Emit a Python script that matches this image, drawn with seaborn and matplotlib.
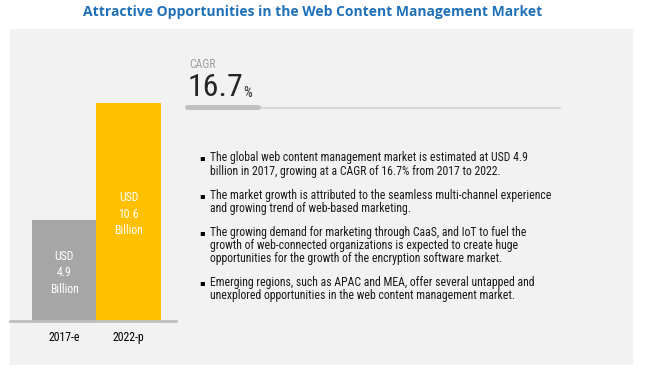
import matplotlib
matplotlib.use("Agg")
import matplotlib.pyplot as plt
import seaborn as sns
from matplotlib import font_manager
from matplotlib.patches import Rectangle
from matplotlib.lines import Line2D

# data
years = ["2017-e", "2022-p"]
market_size = [4.9, 10.6]
bar_colors = ["#A6A6A6", "#FFC000"]
cagr = "16.7"
title = "Attractive Opportunities in the Web Content Management Market"
bullets = [
    ["The global web content management market is estimated at USD 4.9",
     "billion in 2017, growing at a CAGR of 16.7% from 2017 to 2022."],
    ["The market growth is attributed to the seamless multi-channel experience",
     "and growing trend of web-based marketing."],
    ["The growing demand for marketing through CaaS, and IoT to fuel the",
     "growth of web-connected organizations is expected to create huge",
     "opportunities for the growth of the encryption software market."],
    ["Emerging regions, such as APAC and MEA, offer several untapped and",
     "unexplored opportunities in the web content management market."],
]

W, H = 647, 376
sns.set_theme(style="white")
plt.rcParams["font.family"] = ["Liberation Sans", "DejaVu Sans"]

# look for a narrow face, fall back to Liberation Sans
names = {f.name for f in font_manager.fontManager.ttflist}
narrow = "Liberation Sans"
stretch = "normal"
for cand in ["Liberation Sans Narrow", "Arial Narrow", "Roboto Condensed",
             "DejaVu Sans Condensed"]:
    if cand in names:
        narrow = cand
        break
else:
    if any(f.name == "DejaVu Sans" and f.stretch == "condensed"
           for f in font_manager.fontManager.ttflist):
        narrow, stretch = "DejaVu Sans", "condensed"

fig = plt.figure(figsize=(W / 100, H / 100), dpi=100)
fig.patch.set_facecolor("white")


def fx(x):
    return x / W


def fy(y):
    return 1 - y / H


# background panel
fig.patches.append(Rectangle((fx(10), fy(365)), fx(623), (365 - 29) / H,
                             transform=fig.transFigure, facecolor="#F2F2F2",
                             edgecolor="none", zorder=-5))

fig.text(fx(313), fy(12), title, ha="center", va="center", fontsize=10,
         fontweight="bold", color="#1F70B8", family=["Open Sans", "DejaVu Sans"])

# bar axes
ax = fig.add_axes([fx(10), fy(321), fx(166), (321 - 103) / H])
ax.set_facecolor("none")
ax.set_zorder(2)
sns.barplot(x=years, y=market_size, hue=years, palette=bar_colors, legend=False,
            width=1.0, saturation=1, edgecolor="none", ax=ax)
ax.set_xlim(-0.838, 1.731)
ax.set_ylim(0, max(market_size))
for s in ["top", "left", "right"]:
    ax.spines[s].set_visible(False)
ax.spines["bottom"].set_color("#BFBFBF")
ax.spines["bottom"].set_linewidth(2)
ax.set_yticks([])
ax.set_xlabel("")
ax.set_ylabel("")
ax.tick_params(axis="x", length=0, pad=7, labelsize=8.5, labelcolor="#000000")
for lab in ax.get_xticklabels():
    lab.set_family(narrow)
    lab.set_stretch(stretch)
for i, v in enumerate(market_size):
    ax.text(i, v / 2 - 0.1, f"USD\n{v}\nBillion", ha="center", va="center",
            color="white", fontsize=8.5, linespacing=1.35, family=narrow,
            stretch=stretch)

# CAGR block
fig.text(fx(189), fy(65), "CAGR", ha="left", va="center", fontsize=8.5,
         color="#A0A0A0", family=narrow, stretch=stretch)
big = fig.text(fx(188), fy(88), cagr, ha="left", va="center", fontsize=23,
               color="#262626", family=narrow, stretch=stretch)
renderer = fig.canvas.get_renderer()
bb = big.get_window_extent(renderer)
fig.text(bb.x1 / W, fy(93), "%", ha="left", va="center", fontsize=10,
         color="#262626", family=narrow, stretch=stretch)
fig.add_artist(Line2D([fx(187), fx(560)], [fy(108), fy(108)], color="#D9D9D9",
                      lw=1.5, transform=fig.transFigure))
fig.add_artist(Line2D([fx(187), fx(258)], [fy(106.5), fy(106.5)], color="#BFBFBF",
                      lw=3.5, transform=fig.transFigure))

# bullet text, size fitted so the longest line spans ~350 px like the reference
lines = []
y = 158
for b in bullets:
    fig.text(fx(199), fy(y), "\u25aa", ha="left", va="center", fontsize=6,
             color="#000000", family=["DejaVu Sans"])
    for line in b:
        lines.append(fig.text(fx(210), fy(y), line, ha="left", va="center",
                              fontsize=8, color="#1A1A1A", family=narrow,
                              stretch=stretch))
        y += 13.3
    y += 10.5

widest = max(t.get_window_extent(renderer).width for t in lines)
size = min(8.5, 8 * 350 / widest)
for t in lines:
    t.set_fontsize(size)

fig.savefig("out.png", dpi=100)
